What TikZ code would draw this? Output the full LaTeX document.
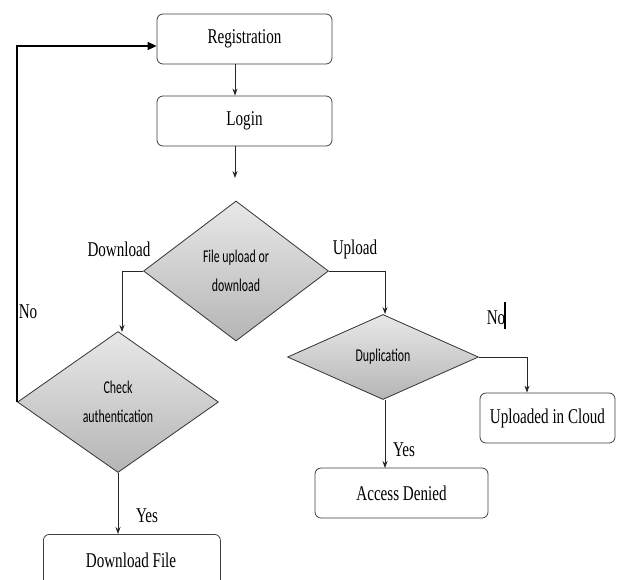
\documentclass[tikz,border=0pt]{standalone}
\usepackage{fontspec}
\usetikzlibrary{shapes.geometric,arrows.meta}
\newfontfamily\lblfont[FakeStretch=0.72]{Liberation Serif}
\newfontfamily\diafont[FakeStretch=0.66]{Carlito}
\begin{document}
\begin{tikzpicture}[x=1pt,y=-1pt,
  box/.style={draw=black!75, line width=0.8pt, rounded corners=6pt, fill=white, inner sep=0pt,
    font=\lblfont\fontsize{21}{24}\selectfont},
  dec/.style={diamond, draw=black!80, line width=0.8pt, inner sep=0pt, aspect=1.3,
    top color=gray!18, bottom color=gray!58, align=center,
    font=\diafont\fontsize{18}{29}\selectfont},
  lbl/.style={font=\lblfont\fontsize{21}{24}\selectfont, inner sep=0pt},
  conn/.style={draw=black!85, line width=0.8pt, -{Stealth[length=7pt,width=5pt]}},
]
\useasboundingbox (0,0) rectangle (617,579);
\begin{scope}
\clip (0,0) rectangle (617,579);
% boxes
\node[box, minimum width=175pt, minimum height=50pt] (reg) at (244.5,39) {Registration};
\node[box, minimum width=175pt, minimum height=50pt] (login) at (244.5,121) {Login};
\node[box, minimum width=177pt, minimum height=60pt, anchor=north west] (dl) at (43,534) {};
\node[lbl] (dltext) at (131,560) {Download File};
\node[box, minimum width=135pt, minimum height=50pt] (cloud) at (547.5,418) {Uploaded in Cloud};
\node[box, minimum width=173pt, minimum height=50pt] (denied) at (401.5,493) {Access Denied};
% diamonds
\node[dec, minimum width=185pt, minimum height=140pt] (fud) at (236,271) {File upload or\\download};
\node[dec, minimum width=201pt, minimum height=141pt] (auth) at (118,402) {Check\\authentication};
\node[dec, minimum width=191pt, minimum height=85pt] (dup) at (383,357) {Duplication};
% helper coordinates
\coordinate (loginout) at (235,178);
\coordinate (loop) at (17,46);
% connectors
\draw[conn] (reg.south -| 235,0) -- (login.north -| 235,0);
\draw[conn] (login.south -| 235,0) -- (loginout);
\draw[draw=black, line width=1.6pt, -{Triangle[length=9pt,width=8pt]}] (auth.west) -- (auth.west |- loop) -- (reg.west |- loop);
\draw[conn] (fud.west) -| (122,332);
\draw[conn] (fud.east) -| (dup.north -| 385,0);
\draw[conn] (auth.south) -- (auth.south |- dl.north);
\draw[conn] (dup.south -| 385,0) -- (385,468);
\draw[conn] (dup.east) -| (cloud.north -| 527,0);
% labels
\node[lbl] (lDownload) at (119,249) {Download};
\node[lbl] (lUpload) at (355,249) {Upload};
\node[lbl] (lNo1) at (28,312) {No};
\node[lbl] (lNo2) at (496,318) {No};
\draw[line width=1.2pt] (505,302) -- (505,329);
\node[lbl] (lYes1) at (147,516) {Yes};
\node[lbl] (lYes2) at (404,450) {Yes};
\end{scope}
\end{tikzpicture}
\end{document}
